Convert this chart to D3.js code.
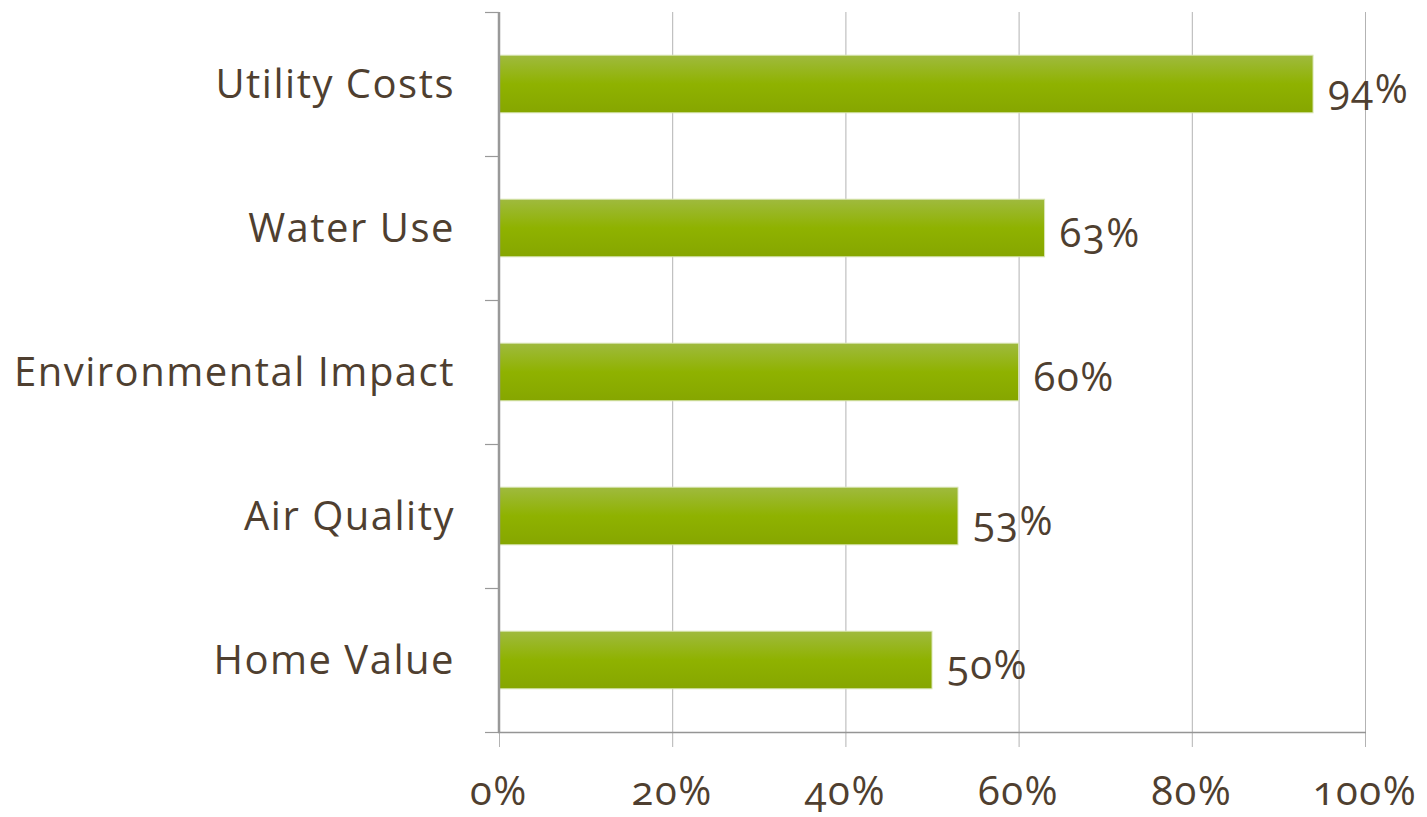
<!DOCTYPE html>
<html><head><meta charset="utf-8">
<script src="https://cdn.jsdelivr.net/npm/d3@7"></script>
<style>
html,body{margin:0;padding:0;background:#fff;}
text{font-family:"Open Sans",Lato,sans-serif;fill:#4f3f30;font-variant-numeric:oldstyle-nums;font-feature-settings:"onum" 1;letter-spacing:1.5px;}
</style></head><body>
<svg id="c" width="1427" height="817"></svg>
<script>
const categories = ["Utility Costs","Water Use","Environmental Impact","Air Quality","Home Value"];
const values = [94,63,60,53,50];
const xTicks = [0,20,40,60,80,100];

(function(){
const svg = d3.select("#c");
const L = 499, R = 1365, T = 12, B = 732;
const x = d3.scaleLinear().domain([0,100]).range([L,R]);
const y = d3.scaleBand().domain(categories).range([T,B]).paddingInner(0.6).paddingOuter(0.3);

const defs = svg.append("defs");
const g = defs.append("linearGradient").attr("id","bg").attr("x1",0).attr("y1",0).attr("x2",0).attr("y2",1);
g.append("stop").attr("offset","0%").attr("stop-color","#9fba3e");
g.append("stop").attr("offset","50%").attr("stop-color","#8fb200");
g.append("stop").attr("offset","100%").attr("stop-color","#86a600");

svg.append("g").selectAll("line").data(xTicks.slice(1)).join("line")
  .attr("x1",d=>x(d)+0.5).attr("x2",d=>x(d)+0.5).attr("y1",T).attr("y2",B+15)
  .attr("stroke","#b3b3b3").attr("stroke-width",1);
svg.append("line").attr("x1",x(0)+0.5).attr("x2",x(0)+0.5).attr("y1",B).attr("y2",B+15).attr("stroke","#b3b3b3");

svg.append("g").selectAll("rect").data(values).join("rect")
  .attr("x",x(0)).attr("y",(d,i)=>y(categories[i]))
  .attr("width",d=>x(d)-x(0)).attr("height",y.bandwidth())
  .attr("fill","url(#bg)").attr("stroke","#d9e5b5").attr("stroke-width",1);

const step = (B-T)/categories.length;
const yb = d3.range(categories.length+1).map(i=>T+i*step);
svg.append("line").attr("x1",L).attr("x2",L).attr("y1",T).attr("y2",B).attr("stroke","#999").attr("stroke-width",2.5);
svg.append("g").selectAll("line").data(yb).join("line")
  .attr("x1",L-14).attr("x2",L).attr("y1",d=>d+0.5).attr("y2",d=>d+0.5).attr("stroke","#999").attr("stroke-width",1.2);
svg.append("line").attr("x1",L-1).attr("x2",R+1).attr("y1",B+0.5).attr("y2",B+0.5).attr("stroke","#959595").attr("stroke-width",1.5);

svg.append("g").selectAll("text").data(categories).join("text")
  .attr("x",455).attr("y",d=>y(d)+y.bandwidth()/2).attr("dy","0.35em")
  .attr("text-anchor","end").attr("font-size",40).text(d=>d);

svg.append("g").selectAll("text").data(xTicks).join("text")
  .attr("x",d=>x(d)).attr("y",805).attr("text-anchor","middle").attr("font-size",40).text(d=>d+"%");

svg.append("g").selectAll("text").data(values).join("text")
  .attr("x",d=>x(d)+15).attr("y",(d,i)=>y(categories[i])+y.bandwidth()/2+19)
  .attr("font-size",40).text(d=>d+"%");
})();
</script></body></html>
